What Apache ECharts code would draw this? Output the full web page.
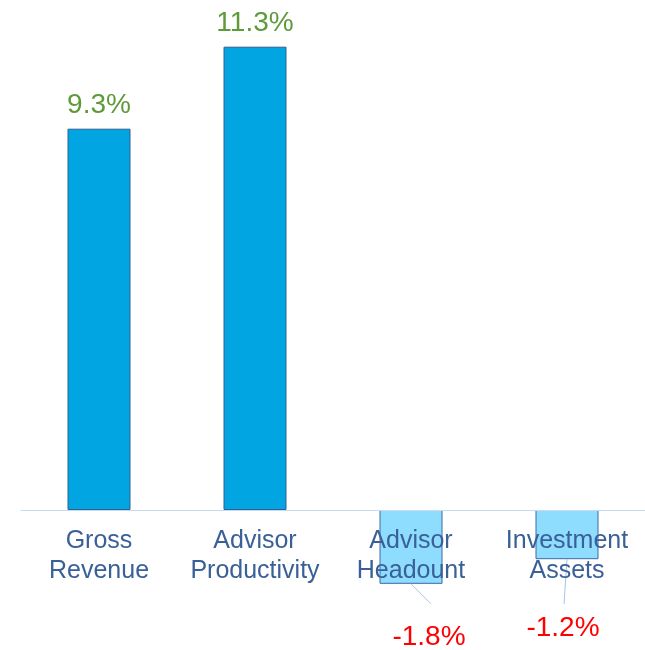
<!DOCTYPE html>
<html>
<head>
<meta charset="utf-8">
<script src="https://cdn.jsdelivr.net/npm/echarts@6/dist/echarts.min.js"></script>
<style>
  html, body { margin: 0; padding: 0; background: #fff; }
  #main { width: 645px; height: 650px; }
</style>
</head>
<body>
<div id="main"></div>
<script>
// chart data
const categories = ['Gross\nRevenue', 'Advisor\nProductivity', 'Advisor\nHeadount', 'Investment\nAssets'];
const values = [9.3, 11.3, -1.8, -1.2];

// offsets for the negative labels (label centre, end of the leader line), relative to bar bottom
const negLabelShift = { 2: { dx: 18, dy: 53, lx: 20, ly: 20 }, 3: { dx: -4, dy: 69, lx: -3, ly: 45 } };

let myChart = echarts.init(document.getElementById('main'));
let option = {
  animation: false,
  grid: { left: 21, right: 0, top: 18, bottom: 58, containLabel: false, outerBoundsMode: 'none' },
  xAxis: {
    type: 'category',
    data: categories,
    z: 10,
    offset: -82, // axis sits on the zero line (grid is 41px per unit, min -2)
    axisLine: { onZero: false, lineStyle: { color: '#C8DAF0', width: 1 } },
    axisTick: { show: false },
    axisLabel: {
      color: '#3A6098',
      fontFamily: 'Liberation Sans',
      fontSize: 25,
      lineHeight: 30,
      margin: 16,
      interval: 0
    }
  },
  yAxis: {
    type: 'value',
    min: -2,
    max: 12,
    show: false,
    splitLine: { show: false }
  },
  series: [{
    type: 'bar',
    barWidth: 63,
    data: values.map((v) => ({
      value: v,
      itemStyle: v >= 0
        ? { color: '#00A5E2', borderColor: '#2F5E93', borderWidth: 1 }
        : { color: '#8EDDFF', borderColor: '#3A6AA6', borderWidth: 1 },
      label: v >= 0
        ? { position: 'top', distance: 9, color: '#5E9A3A' }
        : { position: 'bottom', color: '#FF0000' }
    })),
    label: {
      show: true,
      fontFamily: 'Liberation Sans',
      fontSize: 28,
      formatter: (p) => p.value.toFixed(1) + '%'
    },
    labelLayout: function (params) {
      const s = negLabelShift[params.dataIndex];
      if (!s) return {};
      const r = params.rect;
      const cx = r.x + r.width / 2;
      const bottom = Math.max(r.y, r.y + r.height);
      return { x: cx + s.dx, y: bottom + s.dy, align: 'center', verticalAlign: 'middle' };
    }
  }]
};
myChart.setOption(option);

// leader lines from the bottom of the negative bars toward their labels
const leaders = [];
values.forEach((v, i) => {
  const s = negLabelShift[i];
  if (!s) return;
  const p = myChart.convertToPixel({ xAxisIndex: 0, yAxisIndex: 0 }, [i, v]);
  leaders.push({
    type: 'line',
    z: 5,
    shape: { x1: p[0], y1: p[1], x2: p[0] + s.lx, y2: p[1] + s.ly },
    style: { stroke: '#A8C3E6', lineWidth: 1 }
  });
});
myChart.setOption({ graphic: leaders });
</script>
</body>
</html>
